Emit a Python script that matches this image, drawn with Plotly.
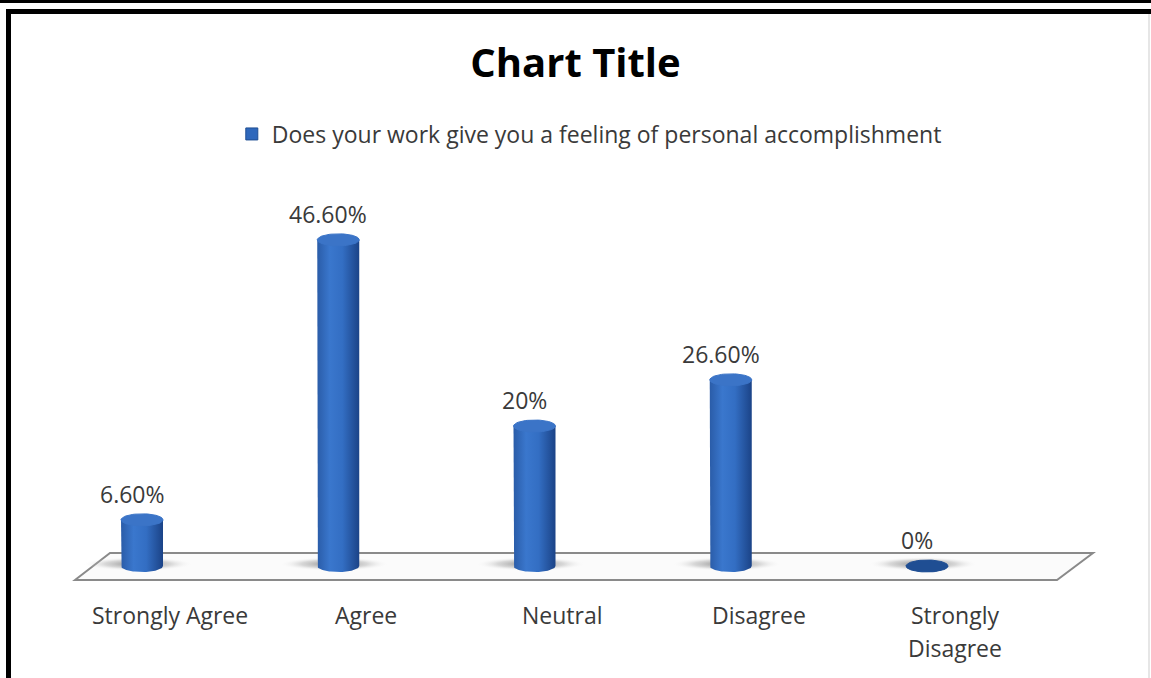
import numpy as np
import plotly.graph_objects as go

# ---------------- data ----------------
categories = ["Strongly Agree", "Agree", "Neutral", "Disagree", "Strongly Disagree"]
category_ticks = ["Strongly Agree", "Agree", "Neutral", "Disagree", "Strongly<br>Disagree"]
values = [6.6, 46.6, 20.0, 26.6, 0.0]
value_labels = ["6.60%", "46.60%", "20%", "26.60%", "0%"]
series_name = "Does your work give you a feeling of personal accomplishment"
title_text = "Chart Title"

# ---------------- layout constants ----------------
W, H = 1151, 678
X0_PX, DX_PX = 142.0, 196.25     # pixel of first category, pixels per category
Y0_PX, DY_PX = 566.0, 7.0        # pixel of 0 %, pixels per percent
x_range = [-X0_PX / DX_PX, (W - X0_PX) / DX_PX]
y_range = [-(H - Y0_PX) / DY_PX, Y0_PX / DY_PX]

def px_x(p):  # pixel width -> x units
    return p / DX_PX

def px_y(p):  # pixel height -> y units
    return p / DY_PX

FONT = "Open Sans"
TEXT_COL = "#3a3a3a"

fig = go.Figure()

# floor (parallelogram) in data coordinates
floor_top = px_y(Y0_PX - 553)
floor_bot = -px_y(580 - Y0_PX)
fl_tl, fl_tr = px_x(110 - X0_PX), px_x(1093 - X0_PX)
fl_bl, fl_br = px_x(75 - X0_PX), px_x(1057 - X0_PX)
floor_path = (f"M{fl_bl},{floor_bot} L{fl_tl},{floor_top} L{fl_tr},{floor_top} "
              f"L{fl_br},{floor_bot} Z")
fig.add_shape(type="path", path=floor_path, xref="x", yref="y",
              line=dict(color="#8a8a8a", width=2), fillcolor="#fbfbfb", layer="below")

rx = px_x(21)
ry = px_y(6)

# shadows on floor
for i, v in enumerate(values):
    t = np.linspace(0, 2 * np.pi, 60)
    sx = i - px_x(4) + px_x(55) * np.cos(t)
    sy = px_y(2) + px_y(7) * np.sin(t)
    fig.add_trace(go.Scatter(
        x=sx, y=sy, mode="lines", fill="toself",
        line=dict(width=0, color="rgba(0,0,0,0)"),
        fillgradient=dict(type="radial",
                          colorscale=[[0, "rgba(90,90,90,0.75)"], [0.6, "rgba(150,150,150,0.35)"],
                                      [1, "rgba(255,255,255,0)"]]),
        hoverinfo="skip", showlegend=False))

# cylinders
for i, v in enumerate(values):
    t = np.linspace(0, np.pi, 40)
    arc_x = i - rx * np.cos(t)
    arc_y = -ry * np.sin(t)
    bx = np.concatenate([[i - rx], arc_x, [i + rx, i - rx]])
    by = np.concatenate([[v], arc_y, [v, v]])
    fig.add_trace(go.Scatter(
        x=bx, y=by, mode="lines", fill="toself",
        line=dict(width=0, color="rgba(0,0,0,0)"),
        fillgradient=dict(type="horizontal",
                          colorscale=[[0, "#2a5ca8"], [0.3, "#3a77cd"], [0.6, "#336ec3"],
                                      [1, "#1b4387"]]),
        hoverinfo="skip", showlegend=False))
    tt = np.linspace(0, 2 * np.pi, 60)
    cap_col = "#3b74c7" if v > 0 else "#1f4e93"
    fig.add_trace(go.Scatter(
        x=i + rx * np.cos(tt), y=v + ry * np.sin(tt), mode="lines", fill="toself",
        line=dict(width=1, color=cap_col), fillcolor=cap_col,
        hoverinfo="skip", showlegend=False))

# legend entry
fig.add_trace(go.Bar(x=[None], y=[None], name=series_name,
                     marker=dict(color="#2f68bc", line=dict(color="#1f4e93", width=1)),
                     showlegend=True))

# value labels
for i, (v, lab) in enumerate(zip(values, value_labels)):
    fig.add_annotation(x=i, y=v, text=lab, showarrow=False, xref="x", yref="y",
                       yanchor="bottom", xshift=-10, yshift=8,
                       font=dict(family=FONT, size=23, color=TEXT_COL))

# category labels (each line placed separately to mimic the wider line spacing)
LINE_PX = 33
for i, lab in enumerate(category_ticks):
    for k, line in enumerate(lab.split("<br>")):
        fig.add_annotation(x=i + px_x(28), y=-px_y(615 + k * LINE_PX - Y0_PX), text=line,
                           showarrow=False, xref="x", yref="y", yanchor="middle",
                           font=dict(family=FONT, size=23, color=TEXT_COL))

# frame lines
fig.add_shape(type="line", xref="paper", yref="paper", x0=0, x1=1,
              y0=1 - 1.5 / H, y1=1 - 1.5 / H, line=dict(color="black", width=3))
fig.add_shape(type="rect", xref="paper", yref="paper", x0=6 / W, x1=1,
              y0=1 - 14 / H, y1=1 - 9 / H, line=dict(width=0), fillcolor="black")
fig.add_shape(type="rect", xref="paper", yref="paper", x0=6 / W, x1=11 / W,
              y0=0, y1=1 - 9 / H, line=dict(width=0), fillcolor="black")
fig.add_shape(type="line", xref="paper", yref="paper", x0=1 - 2 / W, x1=1 - 2 / W,
              y0=0, y1=1 - 14 / H, line=dict(color="#e6e6e6", width=2))

fig.update_layout(
    width=W, height=H,
    margin=dict(l=0, r=0, t=0, b=0),
    paper_bgcolor="white", plot_bgcolor="white",
    title=dict(text=title_text, x=0.5, xanchor="center", y=1 - 63 / H, yanchor="middle",
               font=dict(family=FONT, size=40, color="black", weight="bold")),
    xaxis=dict(range=x_range, visible=False, fixedrange=True),
    yaxis=dict(range=y_range, visible=False, fixedrange=True),
    legend=dict(orientation="h", x=0.512, xanchor="center", y=1 - 134 / H, yanchor="middle",
                font=dict(family=FONT, size=23, color=TEXT_COL), bgcolor="rgba(0,0,0,0)"),
    showlegend=True,
)

fig.write_html("out.html")
